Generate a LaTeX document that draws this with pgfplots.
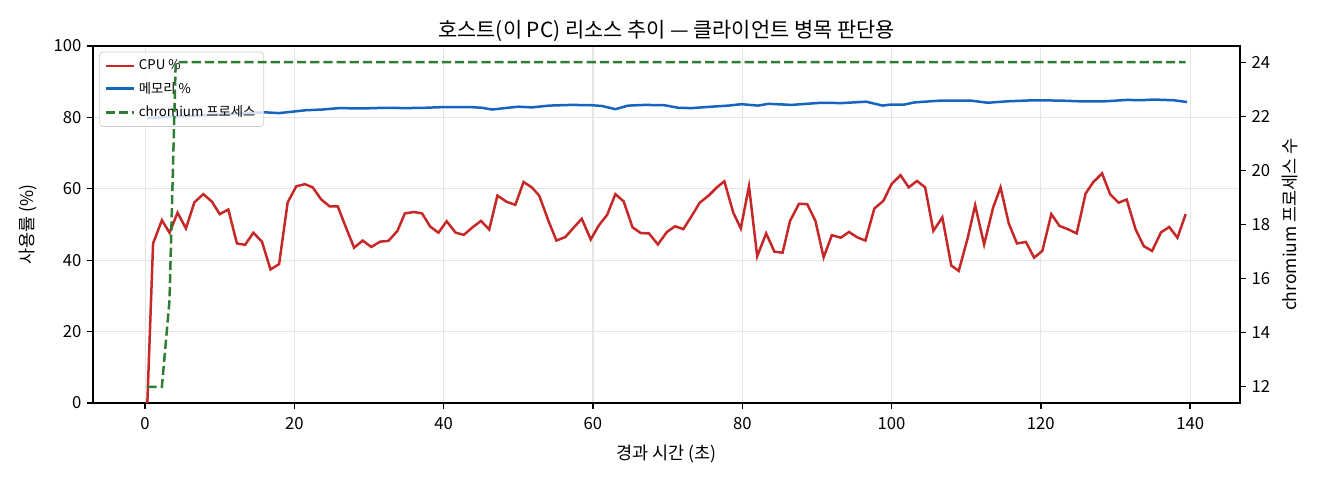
\documentclass[border=0pt]{standalone}
\usepackage{pgfplots}
\pgfplotsset{compat=1.18}
\usepackage{fontspec}
\setmainfont{Noto Sans CJK KR}
\definecolor{cpuc}{HTML}{C62828}
\definecolor{memc}{HTML}{1565C0}
\definecolor{chrc}{HTML}{2E7D32}
\pgfplotsset{
  common/.style={
    at={(55.8pt,46.2pt)}, anchor=south west,
    scale only axis, width=688.2pt, height=214.2pt,
    xmin=-6.98, xmax=146.68,
    tick align=outside,
    major tick length=3.5pt,
    every tick/.style={black, line width=0.8pt},
    tick label style={font=\fontsize{10}{12}\selectfont},
    /pgf/number format/assume math mode=true,
    label style={font=\fontsize{10.5}{12}\selectfont},
  }
}
\begin{document}
\begin{tikzpicture}
\path[use as bounding box] (0,0) rectangle (792pt,288pt);
\begin{axis}[common,
  ymin=0, ymax=100,
  xtick={0,20,...,140}, ytick={0,20,...,100},
  xtick pos=bottom, ytick pos=left,
  xticklabel style={yshift=-1.5pt},
  axis line style={line width=0.8pt},
  grid=major,
  major grid style={black!10, line width=0.7pt},
  xlabel={경과 시간 (초)},
  xlabel style={yshift=-2.5pt},
  ylabel={사용률 (\%)},
  ylabel style={yshift=3pt},
  title={호스트(이 PC) 리소스 추이 — 클라이언트 병목 판단용},
  title style={font=\fontsize{12.5}{14}\selectfont, yshift=-7pt},
  legend cell align=left,
  legend style={at={(0.0055,0.984)}, anchor=north west,
    draw=black!20, rounded corners=2pt, fill=white, fill opacity=0.8, text opacity=1,
    font=\fontsize{8}{9}\selectfont, inner xsep=3pt, inner ysep=2.5pt, row sep=2pt},
]
\addplot[cpuc, line width=1.5pt] coordinates {
(0.3,0) (1.07,44.7) (2.25,51.2) (3.27,47.7) (4.35,53.3) (5.47,48.9) (6.6,56.2) (7.8,58.5)
(8.95,56.4) (10.0,52.9) (11.15,54.2) (12.3,44.7) (13.4,44.3) (14.5,47.7) (15.65,45.2)
(16.8,37.4) (17.95,38.9) (19.1,56.2) (20.25,60.7) (21.4,61.3) (22.45,60.4) (23.6,57.0)
(24.7,55.1) (25.8,55.1) (26.9,49.2) (28.0,43.5) (29.15,45.5) (30.3,43.7) (31.5,45.2)
(32.6,45.4) (33.8,48.2) (34.8,53.1) (36.0,53.5) (37.1,53.1) (38.2,49.4) (39.3,47.7)
(40.4,50.9) (41.6,47.7) (42.7,47.1) (43.8,49.1) (45.0,51.0) (46.1,48.6) (47.2,58.1)
(48.4,56.4) (49.6,55.5) (50.7,61.9) (51.8,60.4) (52.8,58.1) (54.0,51.2) (55.1,45.5)
(56.3,46.5) (57.4,49.1) (58.5,51.6) (59.7,45.8) (60.8,49.8) (61.9,52.7) (63.0,58.5)
(64.1,56.5) (65.3,49.2) (66.4,47.6) (67.5,47.5) (68.7,44.4) (69.9,47.9) (71.0,49.5)
(72.1,48.7) (73.2,52.3) (74.3,56.1) (75.5,58.1) (76.6,60.4) (77.6,62.1) (78.8,53.3)
(79.8,48.9) (80.9,60.7) (82.0,41.1) (83.2,47.5) (84.3,42.4) (85.4,42.1) (86.4,51.0)
(87.6,55.8) (88.7,55.7) (89.8,51.0) (90.9,40.8) (92.0,47.0) (93.2,46.3) (94.3,47.9)
(95.4,46.4) (96.5,45.5) (97.7,54.5) (98.9,56.6) (100.0,61.3) (101.2,63.8) (102.3,60.4)
(103.4,62.2) (104.5,60.4) (105.6,48.2) (106.8,52.0) (108.0,38.5) (109.0,37.0) (110.2,46.2)
(111.2,55.4) (112.4,44.4) (113.6,54.7) (114.6,60.4) (115.7,50.3) (116.8,44.7) (118.0,45.1)
(119.1,40.7) (120.2,42.6) (121.4,52.9) (122.5,49.6) (123.6,48.7) (124.8,47.5) (126.0,58.7)
(127.0,61.8) (128.2,64.3) (129.3,58.4) (130.4,56.1) (131.5,57.0) (132.7,48.6) (133.8,43.9)
(134.9,42.6) (136.1,47.8) (137.2,49.3) (138.3,46.3) (139.4,52.9)
};
\addlegendentry{CPU \%}
\addplot[memc, line width=1.5pt] coordinates {
(0.3,79.8) (3,80.1) (6,80.4) (9,80.7) (12,81.0) (14.5,81.3) (16.2,81.4) (17.95,81.2)
(20.2,81.7) (21.5,82.0) (23.7,82.2) (26.0,82.6) (29.1,82.5) (32.2,82.7) (34.9,82.6)
(37.6,82.7) (40.2,82.9) (43.4,82.9) (45.1,82.7) (46.5,82.2) (48.2,82.6) (50,83.0)
(51.8,82.8) (54.1,83.3) (57.2,83.5) (59.8,83.4) (61.2,83.2) (63.0,82.3) (64.7,83.3)
(67.0,83.5) (69.6,83.4) (71.4,82.7) (73.2,82.6) (75.9,83.0) (78.1,83.3) (79.9,83.7)
(82.1,83.3) (83.5,83.8) (86.6,83.5) (90.6,84.1) (93.3,84.0) (96.6,84.4) (98.8,83.3)
(99.9,83.6) (101.7,83.6) (103.1,84.2) (106.6,84.7) (110.6,84.7) (112.9,84.1) (115.5,84.5)
(119.1,84.8) (122.7,84.7) (125.3,84.5) (128.5,84.5) (131.6,84.9) (133.4,84.8) (135.1,85.0)
(137.8,84.8) (139.6,84.3)
};
\addlegendentry{메모리 \%}
\addlegendimage{chrc, line width=1.5pt, dash pattern=on 5.5pt off 2.4pt}
\addlegendentry{chromium 프로세스}
\end{axis}
\begin{axis}[common,
  ymin=11.4, ymax=24.6,
  ytick={12,14,...,24},
  axis x line=none, axis y line*=right,
  axis line style={line width=0.8pt},
  ylabel={chromium 프로세스 수},
]
\addplot[chrc, line width=1.5pt, dash pattern=on 5.5pt off 2.4pt] coordinates {
(0.3,12) (1.07,12) (2.25,12) (3.27,15.2) (4.1,24) (139.4,24)
};
\end{axis}
\end{tikzpicture}
\end{document}
